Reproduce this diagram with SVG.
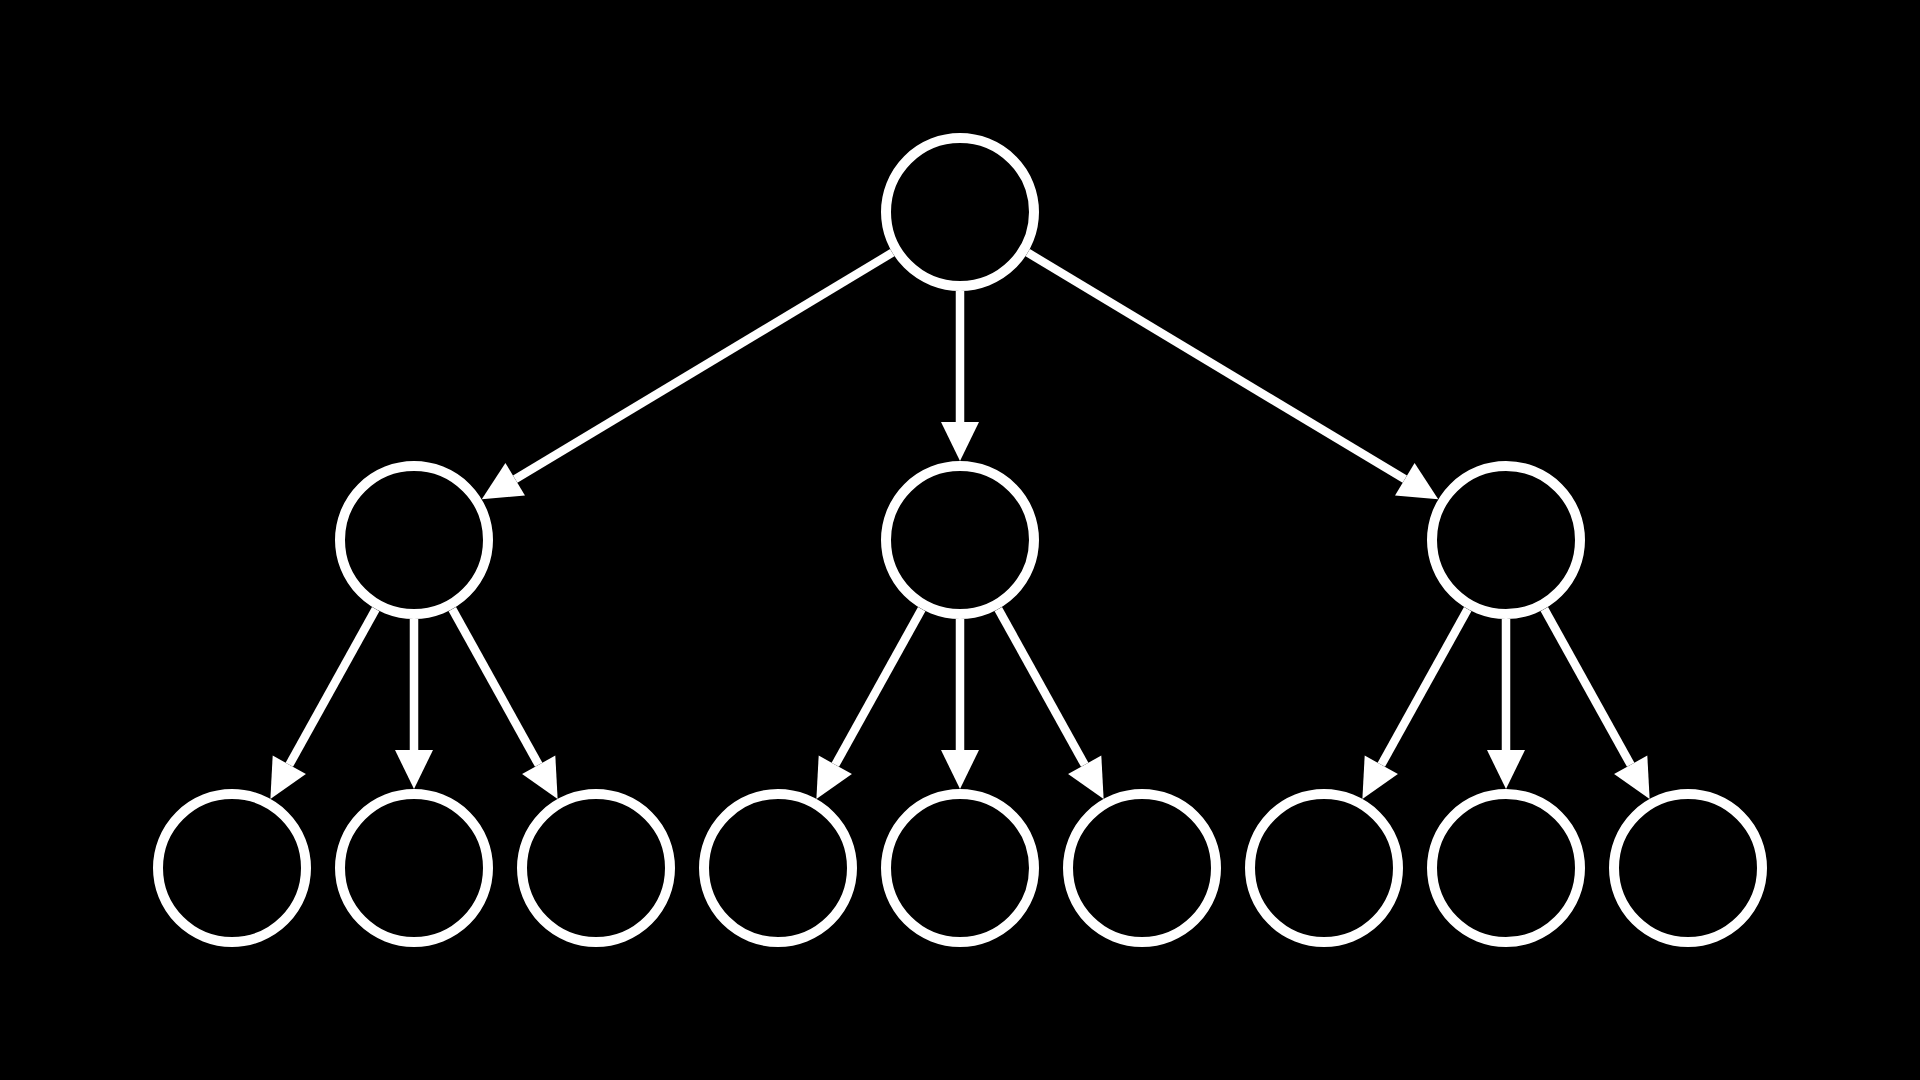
<svg xmlns="http://www.w3.org/2000/svg" width="1920" height="1080" viewBox="0 0 1920 1080">
<style>
.node{fill:#000;stroke:#fff;stroke-width:10}
.edge{stroke:#fff;stroke-width:8.5;fill:none;marker-end:url(#ah)}
</style>
<defs>
<marker id="ah" markerUnits="userSpaceOnUse" markerWidth="40" markerHeight="40" viewBox="0 -20 40 40" refX="0" refY="0" orient="auto" overflow="visible">
<path d="M0,-19 L39,0 L0,19 z" fill="#fff"/>
</marker>
</defs>
<rect width="1920" height="1080" fill="#000"/>
<g id="connectors">
<line class="edge" x1="892.3" y1="252.7" x2="515.2" y2="479.2"/>
<line class="edge" x1="960" y1="291" x2="960" y2="422"/>
<line class="edge" x1="1027.7" y1="252.7" x2="1404.8" y2="479.2"/>
<line class="edge" x1="375.7" y1="609.1" x2="289.3" y2="764.8"/>
<line class="edge" x1="414" y1="619" x2="414" y2="750"/>
<line class="edge" x1="452.3" y1="609.1" x2="538.7" y2="764.8"/>
<line class="edge" x1="921.7" y1="609.1" x2="835.3" y2="764.8"/>
<line class="edge" x1="960" y1="619" x2="960" y2="750"/>
<line class="edge" x1="998.3" y1="609.1" x2="1084.7" y2="764.8"/>
<line class="edge" x1="1467.7" y1="609.1" x2="1381.3" y2="764.8"/>
<line class="edge" x1="1506" y1="619" x2="1506" y2="750"/>
<line class="edge" x1="1544.3" y1="609.1" x2="1630.7" y2="764.8"/>
</g>
<g id="n0"><circle class="node" cx="960" cy="212" r="74"/></g>
<g id="n1"><circle class="node" cx="414" cy="540" r="74"/></g>
<g id="n2"><circle class="node" cx="960" cy="540" r="74"/></g>
<g id="n3"><circle class="node" cx="1506" cy="540" r="74"/></g>
<g id="n4"><circle class="node" cx="232" cy="868" r="74"/></g>
<g id="n5"><circle class="node" cx="414" cy="868" r="74"/></g>
<g id="n6"><circle class="node" cx="596" cy="868" r="74"/></g>
<g id="n7"><circle class="node" cx="778" cy="868" r="74"/></g>
<g id="n8"><circle class="node" cx="960" cy="868" r="74"/></g>
<g id="n9"><circle class="node" cx="1142" cy="868" r="74"/></g>
<g id="n10"><circle class="node" cx="1324" cy="868" r="74"/></g>
<g id="n11"><circle class="node" cx="1506" cy="868" r="74"/></g>
<g id="n12"><circle class="node" cx="1688" cy="868" r="74"/></g>
</svg>
